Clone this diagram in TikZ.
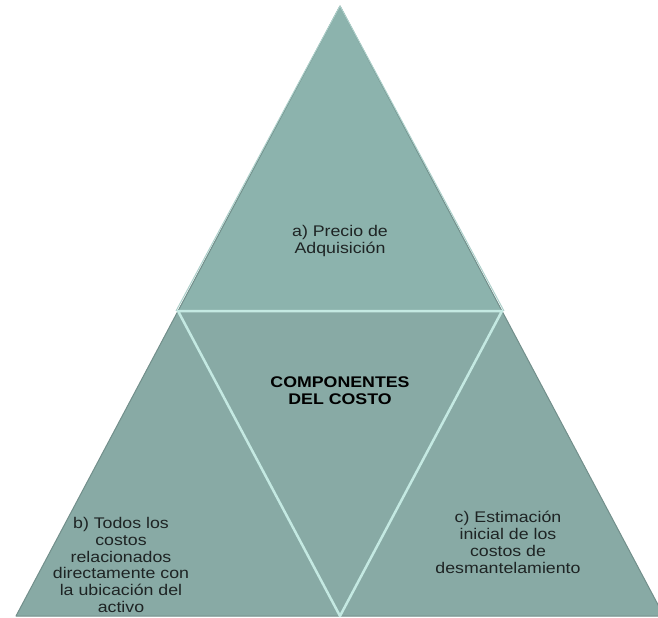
\documentclass[tikz,border=0pt]{standalone}
\usepackage{fontspec}
\setmainfont[FakeStretch=1.15]{Liberation Sans}
\definecolor{tealfill}{HTML}{88AAA5}
\definecolor{tealtop}{HTML}{8CB3AD}
\definecolor{bevel}{HTML}{C4E9E2}
\definecolor{edgedark}{HTML}{728F8B}
\definecolor{txt}{HTML}{1E2424}
\begin{document}
\begin{tikzpicture}[x=1bp,y=-1bp]
\tikzstyle{every node}+=[inner sep=0pt, align=center, text=txt, font=\fontsize{15.5}{17}\selectfont]
\tikzstyle{tri}=[line join=round]
\useasboundingbox (0,0) rectangle (658,618);
\coordinate (apex) at (340,6);
\coordinate (left) at (16,616);
\coordinate (right) at (664,616);
\coordinate (midl) at (178,311);
\coordinate (midr) at (502,311);
\coordinate (midb) at (340,616);
\fill [tealfill] (left) -- (apex) -- (right) -- cycle;
\fill [tealtop] (apex) -- (midl) -- (midr) -- cycle;
\draw [edgedark, line width=1bp, tri] (apex) -- (midl) -- (midr) -- cycle;
\draw [edgedark, line width=1bp, tri] (midl) -- (left) -- (midb) -- cycle;
\draw [edgedark, line width=1bp, tri] (midr) -- (midb) -- (right) -- cycle;
\draw [bevel, line width=2.5bp, tri] (midl) -- (midr) -- (midb) -- cycle;
\draw [bevel!60!tealfill, line width=1bp] (apex) -- ([xshift=-2bp]midl);
\draw [bevel!60!tealfill, line width=1bp] (apex) -- ([xshift=2bp]midr);
\node (precio) at (340,241) {a) Precio de\\Adquisición};
\node [font=\fontsize{15.5}{17}\selectfont\bfseries, text=black] (componentes) at (340,391) {COMPONENTES\\DEL COSTO};
\node (todos) at (121,565) {b) Todos los\\costos\\relacionados\\directamente con\\la ubicación del\\activo};
\node (estimacion) at (508,542) {c) Estimación\\inicial de los\\costos de\\desmantelamiento};
\end{tikzpicture}
\end{document}
